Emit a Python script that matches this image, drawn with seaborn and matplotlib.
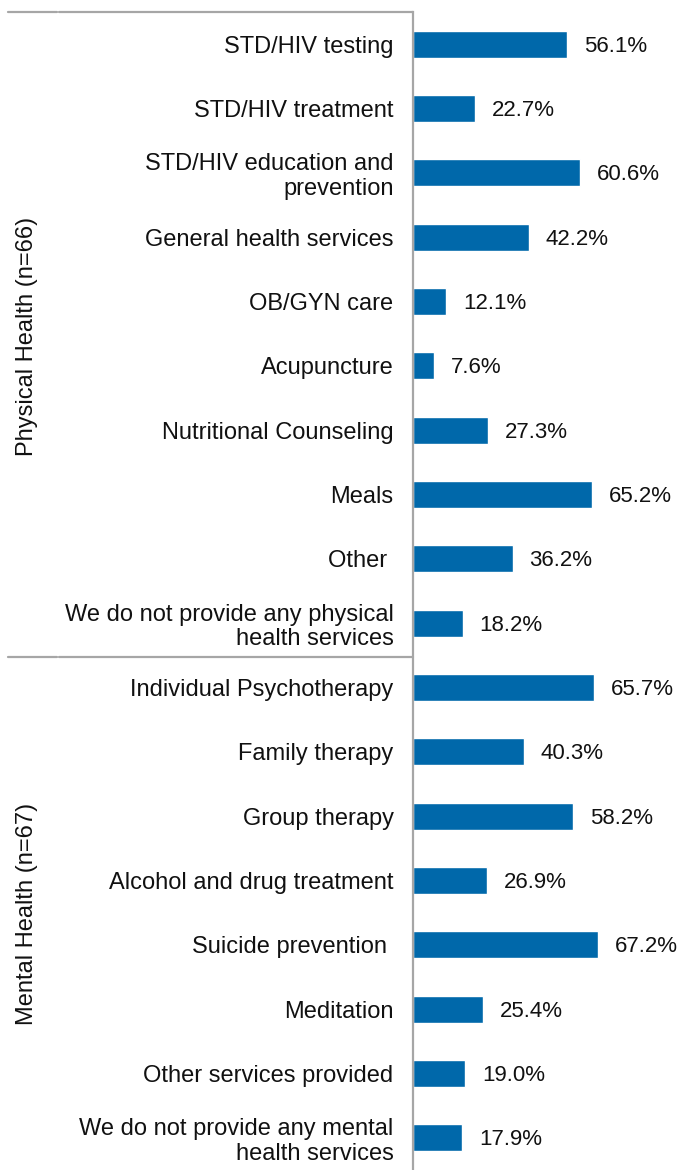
import matplotlib
matplotlib.use('Agg')
import matplotlib.pyplot as plt
from matplotlib.lines import Line2D
import seaborn as sns
import pandas as pd

# Services offered, grouped by domain
physical_services = [
    'STD/HIV testing',
    'STD/HIV treatment',
    'STD/HIV education and\nprevention',
    'General health services',
    'OB/GYN care',
    'Acupuncture',
    'Nutritional Counseling',
    'Meals',
    'Other ',
    'We do not provide any physical\nhealth services',
]
physical_pct = [56.1, 22.7, 60.6, 42.2, 12.1, 7.6, 27.3, 65.2, 36.2, 18.2]

mental_services = [
    'Individual Psychotherapy',
    'Family therapy',
    'Group therapy',
    'Alcohol and drug treatment',
    'Suicide prevention ',
    'Meditation',
    'Other services provided',
    'We do not provide any mental\nhealth services',
]
mental_pct = [65.7, 40.3, 58.2, 26.9, 67.2, 25.4, 19.0, 17.9]

group_labels = ['Physical Health (n=66)', 'Mental Health (n=67)']

df = pd.DataFrame({
    'service': physical_services + mental_services,
    'pct': physical_pct + mental_pct,
})

sns.set_style('white')
plt.rcParams['font.family'] = ['Liberation Sans', 'DejaVu Sans']

W, H = 678, 1170
fig = plt.figure(figsize=(W / 100, H / 100), dpi=100)
ax = fig.add_axes([413 / W, 0, 1 - 413 / W, 1 - 12 / H])

bar_color = '#0068aa'
sns.barplot(data=df, x='pct', y='service', order=df['service'], color=bar_color,
            width=0.42, orient='h', saturation=1, ax=ax)

labels = ax.bar_label(ax.containers[0], fmt='%.1f%%', padding=12, fontsize=16, color='#111111')
for t in labels:
    # nudge values slightly down, as in the source
    t.set_y(t.get_position()[1])
    t.xyann = (t.xyann[0], -1.5)

ax.set_xlim(0, 96.3)
ax.set_ylim(len(df) - 0.5, -0.5)
ax.set_xlabel('')
ax.set_ylabel('')
ax.set_xticks([])
ax.tick_params(axis='y', length=0, pad=14, labelsize=17, labelcolor='#111111')
for lbl in ax.get_yticklabels():
    lbl.set_linespacing(1.15)

for side in ['top', 'right', 'bottom']:
    ax.spines[side].set_visible(False)
ax.spines['left'].set_color('#a6a6a6')
ax.spines['left'].set_linewidth(1.6)

# group separators on the left
line_color = '#a6a6a6'
for ypix in [12, 657]:
    yf = 1 - ypix / H
    fig.add_artist(Line2D([8 / W, 57 / W], [yf, yf], color=line_color, lw=1.6))
    fig.add_artist(Line2D([59 / W, 413 / W], [yf, yf], color=line_color, lw=1.6))

fig.text(27 / W, 1 - 336 / H, group_labels[0], rotation=90, ha='center', va='center',
         fontsize=17, color='#111111')
fig.text(27 / W, 1 - 914 / H, group_labels[1], rotation=90, ha='center', va='center',
         fontsize=17, color='#111111')

fig.savefig('out.png', dpi=100)
